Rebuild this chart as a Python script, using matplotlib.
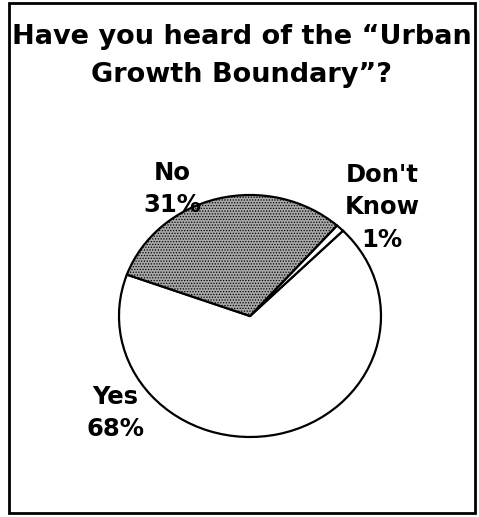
import matplotlib
matplotlib.use("Agg")
import matplotlib.pyplot as plt
from matplotlib.patches import Rectangle

# Survey responses
categories = ["Yes", "Don't\nKnow", "No"]
values = [68, 1, 31]
face_colors = ["white", "white", "#a8a8a8"]
hatches = [None, None, "......"]

title = "Have you heard of the \u201cUrban\nGrowth Boundary\u201d?"

plt.rcParams["font.family"] = ["DejaVu Sans"]
plt.rcParams["hatch.linewidth"] = 0.6

W, H = 479, 517
fig = plt.figure(figsize=(W / 100, H / 100), dpi=100)

# Outer frame
fig.patches.append(Rectangle((9 / W, 4 / H), 466 / W, 510 / H, transform=fig.transFigure,
                             fill=False, edgecolor="black", linewidth=2.0))

fig.text(242 / W, 1 - 56 / H, title, ha="center", va="center", fontsize=19.5,
         fontweight="bold", linespacing=1.55)

# Pie drawn slightly wider than tall
cx, cy, rx, ry = 250, 316, 131, 121
ax = fig.add_axes([(cx - rx) / W, (H - cy - ry) / H, 2 * rx / W, 2 * ry / H])
wedges, _ = ax.pie(values, colors=face_colors, startangle=160, counterclock=True,
                   wedgeprops=dict(edgecolor="black", linewidth=1.6))
for w, h in zip(wedges, hatches):
    if h:
        w.set_hatch(h)
ax.set_aspect("auto")
ax.set_xlim(-1, 1)
ax.set_ylim(-1, 1)
ax.axis("off")

# Category labels with percentages
label_pos = [(-1.03, -0.80), (1.01, 0.90), (-0.595, 1.05)]
for name, val, (lx, ly) in zip(categories, values, label_pos):
    ax.text(lx, ly, f"{name}\n{val}%", ha="center", va="center", fontsize=17.5,
            fontweight="bold", linespacing=1.45, clip_on=False)

fig.savefig("out.png", dpi=100, facecolor="white")
